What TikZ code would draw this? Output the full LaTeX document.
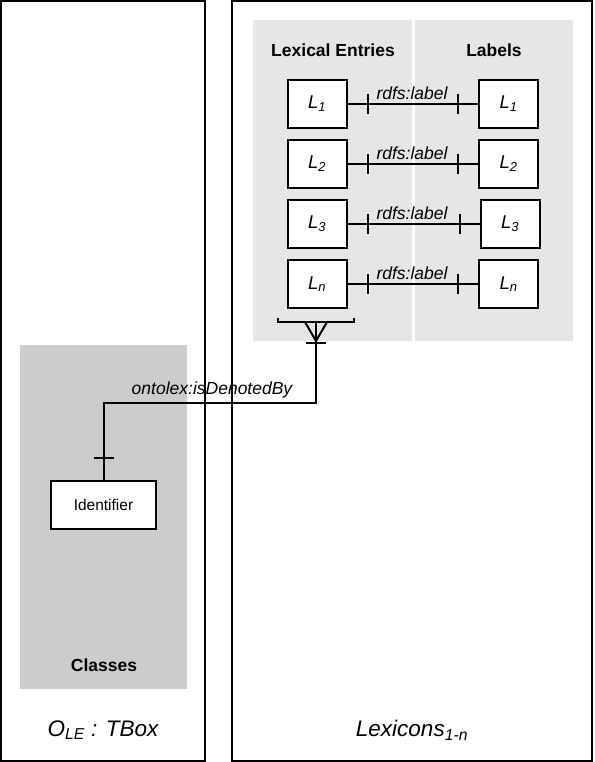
\documentclass[tikz,border=0pt]{standalone}
\usepackage{fontspec}
\setmainfont{Liberation Sans}
\usetikzlibrary{calc}
\definecolor{lightgrey}{HTML}{E6E6E6}
\definecolor{midgrey}{HTML}{CCCCCC}
\begin{document}
\begin{tikzpicture}[x=1pt,y=-1pt,
  frame/.style={draw=black, line width=2pt},
  entity/.style={draw=black, fill=white, line width=2pt, minimum width=59pt, minimum height=48pt, inner sep=0pt, font=\fontsize{18.5}{22}\selectfont\itshape},
  idbox/.style={draw=black, fill=white, line width=2pt, minimum width=105pt, minimum height=48pt, inner sep=0pt, font=\fontsize{15.5}{18}\selectfont},
  rel/.style={line width=2pt},
  rellabel/.style={font=\fontsize{17.5}{21}\selectfont\itshape, inner sep=0pt},
  header/.style={font=\fontsize{17.5}{21}\selectfont\bfseries, inner sep=0pt},
  bigtitle/.style={font=\fontsize{22.5}{27}\selectfont\itshape, inner sep=0pt},
]
\useasboundingbox (0,0) rectangle (594,762);
% frames
\draw[frame] (1,1) rectangle (205,761);
\draw[frame] (232,1) rectangle (592,761);
% grey areas
\fill[lightgrey] (253,20) rectangle (412,341);
\fill[lightgrey] (415,20) rectangle (573,341);
\fill[midgrey] (20,345) rectangle (187,689);
% headers
\node[header] (hle) at (333,50) {Lexical Entries};
\node[header] (hlb) at (494,50) {Labels};
\node[header] (hcl) at (104,665) {Classes};
% entities
\node[entity] (le1) at (317,104) {L\textsubscript{1}};
\node[entity] (le2) at (317,164) {L\textsubscript{2}};
\node[entity] (le3) at (317,224) {L\textsubscript{3}};
\node[entity] (len) at (317,284) {L\textsubscript{n}};
\node[entity] (lb1) at (508.5,104) {L\textsubscript{1}};
\node[entity] (lb2) at (508.5,164) {L\textsubscript{2}};
\node[entity] (lb3) at (510,224) {L\textsubscript{3}};
\node[entity] (lbn) at (508.5,284) {L\textsubscript{n}};
% rdfs:label connectors
\foreach \a/\b in {le1/lb1, le2/lb2, le3/lb3, len/lbn}{
  \draw[rel] (\a.east) -- (\b.west);
  \draw[rel] ($(\a.east)+(20,-10)$) -- ++(0,20);
  \draw[rel] ($(\b.west)+(-20,-10)$) -- ++(0,20);
}
\node[rellabel] (rl1) at (412,93.5) {rdfs:label};
\node[rellabel] (rl2) at (412,153.5) {rdfs:label};
\node[rellabel] (rl3) at (412,213.5) {rdfs:label};
\node[rellabel] (rln) at (412,273.5) {rdfs:label};
% identifier
\node[idbox] (id) at (103.5,505) {Identifier};
% bracket and crow's foot
\coordinate (brl) at (278,318);
\coordinate (brr) at (354,318);
\coordinate (cf) at (316,322);
\coordinate (bend) at (316,403);
\draw[rel] (brl) -- ++(0,4) -- ($(brr)+(0,4)$) -- (brr);
\draw[rel] ($(cf)+(-11,0)$) -- ($(cf)+(0,19)$) -- ($(cf)+(11,0)$);
\draw[rel] ($(cf)+(-10,21)$) -- ++(20,0);
\draw[rel] (cf) -- (bend) -| (id.north);
\draw[rel] ($(id.north)+(-10,-22)$) -- ++(20,0);
\node[rellabel] (ont) at (212,390) {ontolex:isDenotedBy};
% titles
\node[bigtitle] (tbox) at (103,730) {O\textsubscript{LE} : TBox};
\node[bigtitle] (lex) at (412,730) {Lexicons\textsubscript{1-n}};
\end{tikzpicture}
\end{document}
